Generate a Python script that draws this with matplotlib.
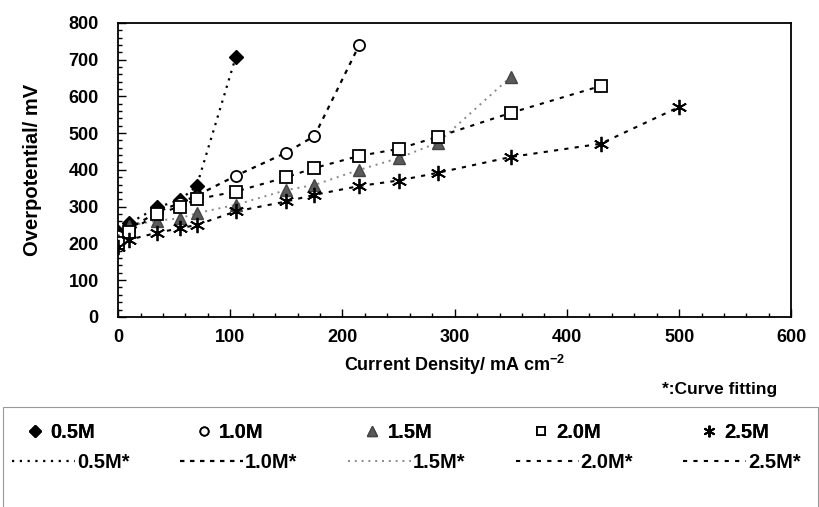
import matplotlib
matplotlib.use("Agg")
import matplotlib.pyplot as plt
from matplotlib.ticker import MultipleLocator
from matplotlib.patches import Rectangle

plt.rcParams["font.family"] = ["Liberation Sans", "DejaVu Sans"]
plt.rcParams["font.weight"] = "bold"
plt.rcParams["mathtext.fontset"] = "custom"
plt.rcParams["mathtext.bf"] = "Liberation Sans:bold"

# ── data ─────────────────────────────────────────────────────────────────────
x_05 = [0, 10, 35, 55, 70, 105]
y_05 = [232, 255, 298, 318, 355, 708]

x_10 = [0, 10, 35, 55, 70, 105, 150, 175, 215]
y_10 = [220, 240, 285, 310, 330, 384, 447, 492, 740]

x_15 = [0, 10, 35, 55, 70, 105, 150, 175, 215, 250, 285, 350]
y_15 = [210, 248, 262, 268, 282, 305, 345, 359, 400, 432, 474, 653]

x_20 = [0, 10, 35, 55, 70, 105, 150, 175, 215, 250, 285, 350, 430]
y_20 = [200, 232, 280, 300, 320, 341, 380, 405, 438, 457, 490, 555, 628]

x_25 = [0, 10, 35, 55, 70, 105, 150, 175, 215, 250, 285, 350, 430, 500]
y_25 = [190, 210, 229, 241, 250, 287, 314, 332, 356, 371, 392, 435, 471, 571]

labels = ["0.5M", "1.0M", "1.5M", "2.0M", "2.5M"]

# ── figure ───────────────────────────────────────────────────────────────────
fig = plt.figure(figsize=(8.2, 5.07), dpi=100)
ax = fig.add_axes([0.144, 0.375, 0.821, 0.580])

series = [
    (x_05, y_05, dict(marker="D", ms=7.5, mfc="black", mec="black"),
     dict(color="black", ls=(0, (1, 2.5)), lw=1.6)),
    (x_10, y_10, dict(marker="o", ms=8, mfc="white", mec="black", mew=1.3),
     dict(color="black", ls=(0, (2, 2.5)), lw=1.6)),
    (x_15, y_15, dict(marker="^", ms=9, mfc="#5a5a5a", mec="#444444"),
     dict(color="#888888", ls=(0, (1, 2.5)), lw=1.4)),
    (x_20, y_20, dict(marker="s", ms=8, mfc="white", mec="black", mew=1.3),
     dict(color="black", ls=(0, (2, 3)), lw=1.5)),
    (x_25, y_25, dict(marker=(6, 2, 0), ms=11, mfc="black", mec="black", mew=1.3),
     dict(color="black", ls=(0, (2, 3)), lw=1.5)),
]

marks, lines = [], []
for (xs, ys, mk, ln), lab in zip(series, labels):
    l, = ax.plot(xs, ys, label=lab + "*", zorder=2, **ln)
    m, = ax.plot(xs, ys, ls="none", label=lab, zorder=3, **mk)
    marks.append(m)
    lines.append(l)

ax.set_xlim(0, 600)
ax.set_ylim(0, 800)
ax.xaxis.set_major_locator(MultipleLocator(100))
ax.xaxis.set_minor_locator(MultipleLocator(20))
ax.yaxis.set_major_locator(MultipleLocator(100))
ax.yaxis.set_minor_locator(MultipleLocator(20))
ax.tick_params(which="both", direction="in", top=False, right=False,
               labelsize=13, width=1)
ax.tick_params(which="major", length=6)
ax.tick_params(which="minor", length=3)
ax.tick_params(axis="x", pad=9)
ax.tick_params(axis="y", pad=14)
for s in ax.spines.values():
    s.set_linewidth(1.3)

ax.set_ylabel("Overpotential/ mV", fontsize=14.5, fontweight="bold", labelpad=19)
ax.set_xlabel("Current Density/ mA cm$^{\\mathbf{-2}}$", fontsize=13,
              fontweight="bold", labelpad=5)

fig.text(0.878, 0.231, "*:Curve fitting", fontsize=12.5, fontweight="bold",
         ha="center", va="center")

# legend frame + two rows (markers, then fitted lines)
fig.patches.append(Rectangle((0.004, -0.02), 0.993, 0.217,
                             transform=fig.transFigure, fill=False,
                             edgecolor="#999999", lw=0.8))

leg1 = fig.legend(handles=marks, ncol=5, loc="center left",
                  bbox_to_anchor=(0.033, 0.146), frameon=False,
                  fontsize=14.5, handlelength=0.8, handletextpad=0.35,
                  columnspacing=5.0, numpoints=1, borderpad=0,
                  borderaxespad=0, markerscale=0.75)
leg2 = fig.legend(handles=lines, ncol=5, loc="center left",
                  bbox_to_anchor=(0.0146, 0.088), frameon=False,
                  fontsize=14.5, handlelength=3.13, handletextpad=0.1,
                  columnspacing=2.5, borderpad=0, borderaxespad=0)
fig.add_artist(leg1)

fig.savefig("out.png", dpi=100)
